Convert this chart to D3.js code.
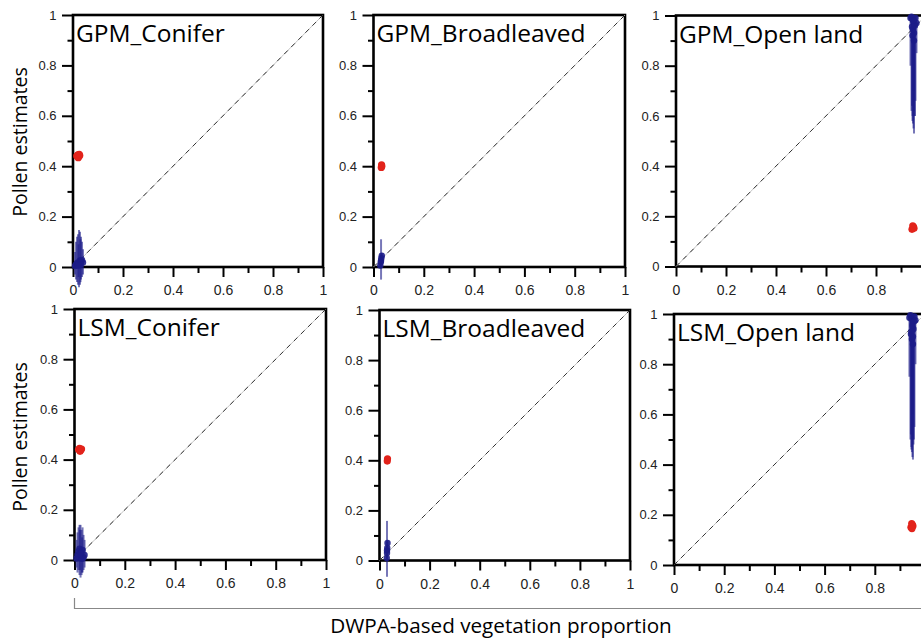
<!DOCTYPE html>
<html><head><meta charset="utf-8">
<script src="https://cdn.jsdelivr.net/npm/d3@7"></script>
<style>body{margin:0;background:#fff} svg{display:block;background:#fff}</style>
</head><body><svg id="c" width="921" height="638"></svg>
<script>
// ---------- data ----------
const panelTitles = ["GPM_Conifer", "GPM_Broadleaved", "GPM_Open land", "LSM_Conifer", "LSM_Broadleaved", "LSM_Open land"];
const majorTicks = [0, 0.2, 0.4, 0.6, 0.8, 1];
const minorTicks = [0.1, 0.3, 0.5, 0.7, 0.9];
const tickLabels = ["0", "0.2", "0.4", "0.6", "0.8", "1"];
const xAxisTitle = "DWPA-based vegetation proportion";
const yAxisTitle = "Pollen estimates";

// red: pollen-based estimates (one cluster per panel)
const redX = [
  [0.015, 0.019, 0.023, 0.027, 0.021, 0.025],
  [0.031, 0.032, 0.033],
  [0.944, 0.950, 0.947, 0.952],
  [0.016, 0.020, 0.024, 0.028, 0.022],
  [0.031, 0.032],
  [0.944, 0.950, 0.947, 0.952, 0.948]
];
const redY = [
  [0.440, 0.445, 0.438, 0.442, 0.434, 0.447],
  [0.395, 0.405, 0.400],
  [0.148, 0.158, 0.162, 0.152],
  [0.440, 0.445, 0.437, 0.442, 0.433],
  [0.397, 0.406],
  [0.150, 0.160, 0.165, 0.155, 0.145]
];

// blue: model estimates with uncertainty ranges
const blueX = [
  [0.008, 0.012, 0.016, 0.020, 0.024, 0.028, 0.032, 0.036, 0.040, 0.030, 0.022],
  [0.027, 0.029, 0.031, 0.033, 0.030],
  [0.938, 0.942, 0.946, 0.950, 0.954, 0.958, 0.962, 0.944, 0.948, 0.952, 0.956, 0.950, 0.946, 0.952],
  [0.008, 0.012, 0.016, 0.020, 0.024, 0.028, 0.032, 0.036, 0.040, 0.030, 0.022],
  [0.029, 0.030, 0.031, 0.032, 0.030],
  [0.938, 0.942, 0.946, 0.950, 0.954, 0.958, 0.962, 0.944, 0.948, 0.952, 0.956, 0.950, 0.946, 0.952]
];
const blueY = [
  [0.004, 0.010, 0.016, 0.012, 0.020, 0.026, 0.022, 0.028, 0.018, 0.010, 0.006],
  [0.006, 0.020, 0.035, 0.045, 0.025],
  [0.990, 0.995, 0.985, 0.975, 0.965, 0.990, 0.970, 0.955, 0.945, 0.930, 0.960, 0.980, 0.920, 0.900],
  [0.006, 0.020, 0.035, 0.045, 0.030, 0.015, 0.040, 0.010, 0.020, 0.005, 0.025],
  [0.010, 0.030, 0.050, 0.070, 0.040],
  [0.985, 0.995, 0.980, 0.960, 0.940, 0.990, 0.975, 0.920, 0.900, 0.880, 0.970, 0.950, 0.930, 0.910]
];
const blueLo = [
  [-0.03, -0.05, -0.06, -0.07, -0.08, -0.07, -0.05, -0.04, -0.03, -0.06, -0.04],
  [0.00, 0.005, 0.01, 0.02, -0.05],
  [0.80, 0.62, 0.58, 0.55, 0.60, 0.66, 0.85, 0.64, 0.57, 0.53, 0.60, 0.70, 0.60, 0.62],
  [-0.03, -0.05, -0.04, -0.06, -0.07, -0.06, -0.05, -0.04, -0.03, -0.05, -0.04],
  [0.00, 0.01, 0.02, 0.04, -0.065],
  [0.75, 0.50, 0.46, 0.43, 0.48, 0.55, 0.80, 0.52, 0.45, 0.42, 0.50, 0.60, 0.47, 0.50]
];
const blueHi = [
  [0.06, 0.10, 0.12, 0.13, 0.147, 0.14, 0.12, 0.10, 0.07, 0.11, 0.09],
  [0.03, 0.045, 0.05, 0.055, 0.11],
  [1, 1, 1, 1, 1, 1, 1, 1, 1, 1, 1, 1, 0.99, 0.98],
  [0.08, 0.11, 0.13, 0.14, 0.14, 0.12, 0.13, 0.10, 0.08, 0.09, 0.12],
  [0.04, 0.06, 0.075, 0.08, 0.158],
  [1, 1, 1, 1, 1, 1, 1, 1, 1, 1, 1, 1, 1, 1]
];

// ---------- layout ----------
const W = 921, H = 638;
const boxes = [
  {l: 73,    r: 323, t: 15,   b: 267},
  {l: 373.5, r: 625, t: 15,   b: 267},
  {l: 676,   r: 926, t: 15.5, b: 266.5},
  {l: 74.5,  r: 326, t: 309,  b: 560},
  {l: 379.5, r: 630, t: 310,  b: 560.5},
  {l: 674,   r: 925, t: 314,  b: 565}
];
const BLUE = "#1c1c88", RED = "#e2231b";
const svg = d3.select("#c");
svg.append("rect").attr("width", W).attr("height", H).attr("fill", "#fff");

panelTitles.forEach((title, i) => {
  const bx = boxes[i];
  const x = d3.scaleLinear().domain([0, 1]).range([bx.l, bx.r]);
  const y = d3.scaleLinear().domain([0, 1]).range([bx.b, bx.t]);
  const g = svg.append("g");

  // frame
  g.append("rect").attr("x", bx.l).attr("y", bx.t)
    .attr("width", bx.r - bx.l).attr("height", bx.b - bx.t)
    .attr("fill", "none").attr("stroke", "#000").attr("stroke-width", 2.6);

  // axes
  const styleAxis = sel => {
    sel.select(".domain").remove();
    sel.selectAll(".tick line").attr("stroke", "#000").attr("stroke-width", 2);
  };
  // x labels whose centre falls outside the page are not shown (as in the reference)
  const xVisible = majorTicks.filter(v => x(v) + 4 < W);
  g.append("g").attr("transform", `translate(0,${bx.b})`)
    .call(d3.axisBottom(x).tickValues(minorTicks).tickSize(6).tickFormat(""))
    .call(styleAxis);
  g.append("g").attr("transform", `translate(0,${bx.b})`)
    .call(d3.axisBottom(x).tickValues(xVisible).tickSize(10).tickPadding(8.5)
      .tickFormat(v => tickLabels[majorTicks.indexOf(v)]))
    .call(styleAxis)
    .call(s => s.selectAll("text").attr("font-family", "Liberation Sans, Arial, sans-serif")
      .attr("font-size", 14).attr("fill", "#222"));
  g.append("g").attr("transform", `translate(${bx.l},0)`)
    .call(d3.axisLeft(y).tickValues(minorTicks).tickSize(5.5).tickFormat(""))
    .call(styleAxis);
  g.append("g").attr("transform", `translate(${bx.l},0)`)
    .call(d3.axisLeft(y).tickValues(majorTicks).tickSize(11).tickPadding(5.5)
      .tickFormat((d, k) => tickLabels[k]))
    .call(styleAxis)
    .call(s => s.selectAll("text").attr("font-family", "Liberation Sans, Arial, sans-serif")
      .attr("font-size", 13).attr("fill", "#222"));

  // 1:1 line
  g.append("line").attr("x1", x(0)).attr("y1", y(0)).attr("x2", x(1)).attr("y2", y(1))
    .attr("stroke", "#c4c4c4").attr("stroke-width", 1);
  g.append("line").attr("x1", x(0)).attr("y1", y(0)).attr("x2", x(1)).attr("y2", y(1))
    .attr("stroke", "#333").attr("stroke-width", 1).attr("stroke-dasharray", "5,5");

  // title
  g.append("text").attr("x", bx.l + 3).attr("y", bx.t + 27)
    .attr("font-family", "Open Sans, sans-serif").attr("font-size", 24.5)
    .attr("fill", "#000").text(title);

  // blue ranges + points
  const bd = blueX[i].map((v, k) => ({x: v, y: blueY[i][k], lo: blueLo[i][k], hi: blueHi[i][k]}));
  g.selectAll(".err").data(bd).join("line")
    .attr("x1", d => x(d.x)).attr("x2", d => x(d.x))
    .attr("y1", d => y(d.lo)).attr("y2", d => y(d.hi))
    .attr("stroke", BLUE).attr("stroke-width", 2).attr("stroke-opacity", 0.6);
  g.selectAll(".bpt").data(bd).join("circle")
    .attr("cx", d => x(d.x)).attr("cy", d => y(d.y)).attr("r", 3.2)
    .attr("fill", BLUE).attr("fill-opacity", 0.9);

  // red points
  const rd = redX[i].map((v, k) => ({x: v, y: redY[i][k]}));
  g.selectAll(".rpt").data(rd).join("circle")
    .attr("cx", d => x(d.x)).attr("cy", d => y(d.y)).attr("r", 3.6)
    .attr("fill", RED);
});

// axis titles
[142, 437].forEach(cy => {
  svg.append("text").attr("transform", `translate(26.5,${cy}) rotate(-90)`)
    .attr("text-anchor", "middle")
    .attr("font-family", "Open Sans, sans-serif").attr("font-size", 19.5)
    .attr("fill", "#000").text(yAxisTitle);
});
svg.append("path").attr("d", "M74.5,598V608.5H921")
  .attr("fill", "none").attr("stroke", "#888").attr("stroke-width", 1.2);
svg.append("text").attr("x", 501).attr("y", 633).attr("text-anchor", "middle")
  .attr("font-family", "Open Sans, sans-serif").attr("font-size", 20.7)
  .attr("fill", "#000").text(xAxisTitle);
</script></body></html>
